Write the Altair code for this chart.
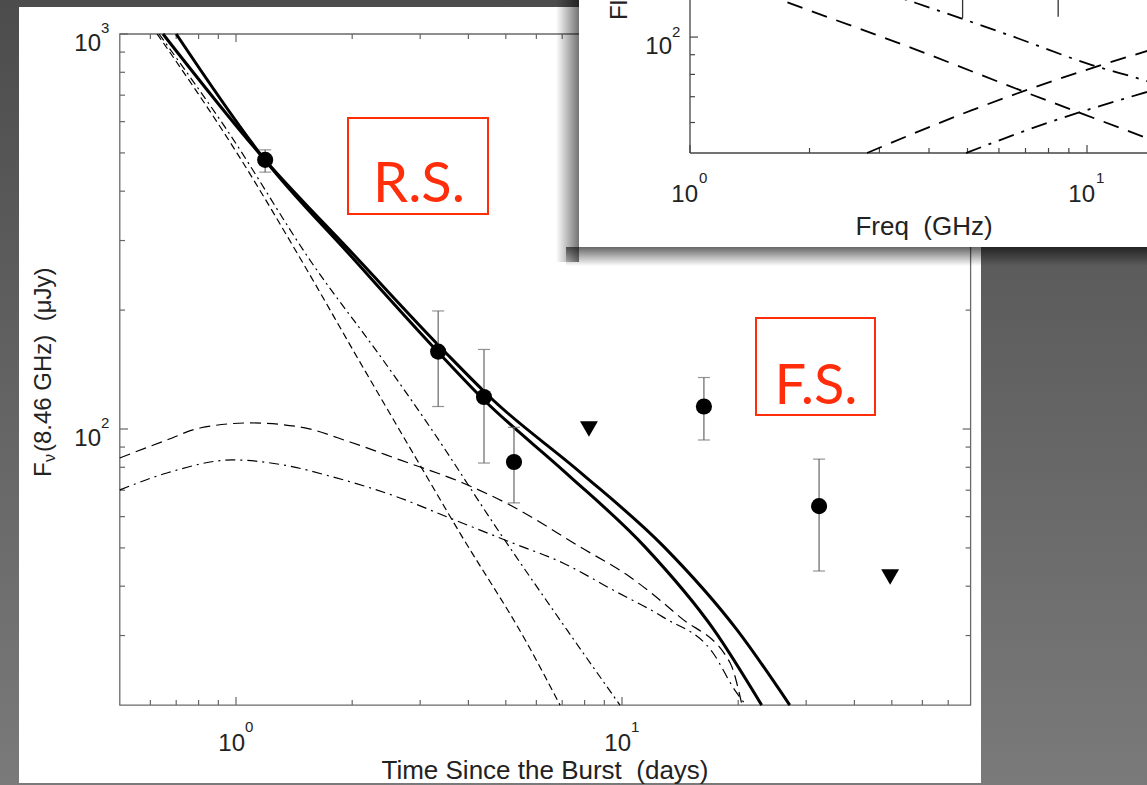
import altair as alt
import pandas as pd

# ---------------- values ----------------
# Main panel: 8.46 GHz light curve, flux (uJy) vs time since burst (days)
tot_a_t = [0.647, 1.189, 2.022, 3.479, 4.633, 7.784, 12.85, 19.86, 27.2]
tot_a_f = [1000, 479.8, 275.7, 156.7, 118.4, 77.8, 50.3, 31.0, 20]
tot_b_t = [0.70, 1.189, 1.974, 3.337, 4.39, 7.117, 11.47, 17.31, 23.0]
tot_b_f = [1000, 479.8, 275.7, 156.7, 118.4, 77.8, 50.3, 31.0, 20]

rs_dash_t = [0.625, 1.006, 1.491, 2.058, 2.944, 3.804, 5.675, 6.91]
rs_dash_f = [1000, 499.5, 263.2, 152.2, 83.5, 54.5, 28.7, 20]
rs_dd_t = [0.632, 0.948, 1.573, 2.403, 3.18, 4.83, 7.203, 9.88]
rs_dd_f = [1000, 571, 263.2, 149.6, 101.2, 54.5, 31.0, 20]

fs_dash_t = [0.5, 0.6625, 0.807, 1.087, 1.465, 1.974, 2.66, 3.873, 5.127, 7.784, 10.49, 14.14, 19.05, 20.46]
fs_dash_f = [84.5, 93.8, 100.6, 103.6, 101.2, 92.7, 83.5, 73.0, 64.2, 50.3, 42.2, 33.4, 25.6, 20]
fs_dd_t = [0.5, 0.6625, 0.982, 1.324, 1.784, 2.66, 3.521, 5.22, 7.03, 9.48, 12.77, 17.21, 19.62, 20.95]
fs_dd_f = [70.1, 77.4, 83.5, 81.1, 75.6, 66.9, 59.9, 51.4, 45.8, 39.1, 33.4, 27.1, 21.8, 20]

obs_t = [1.19, 3.34, 4.39, 5.25, 16.3, 32.4]
obs_f = [480, 157, 120.5, 82.5, 114, 63.8]
obs_lo = [447, 114, 82.0, 65.0, 93.8, 43.7]
obs_hi = [509, 199, 159, 101, 135, 83.9]
lim_t = [8.21, 49.5]
lim_f = [100, 42.2]

main_x_major = [1, 10]
main_x_sup = ["0", "1"]
main_x_minor = [0.6, 0.7, 0.8, 0.9, 2, 3, 4, 5, 6, 7, 8, 9, 20, 30, 40, 50, 60, 70]
main_y_major = [100, 1000]
main_y_sup = ["2", "3"]
main_y_minor = [30, 40, 50, 60, 70, 80, 90, 200, 300, 400, 500, 600, 700, 800, 900]

# Inset: spectrum, flux (uJy) vs frequency (GHz)
in_dash_dn_nu = [1.0, 1.695, 3.624, 7.1, 13.92, 15.28]
in_dash_dn_s = [152.9, 124.8, 93.6, 71.5, 55.0, 53.0]
in_dd_dn_nu = [2.5, 3.709, 6.36, 10.29, 13.92, 15.28]
in_dd_dn_s = [140.6, 122.6, 101.2, 84.6, 77.3, 75.0]
in_dash_up_nu = [2.792, 5.132, 10.29, 14.41]
in_dash_up_s = [50, 64.6, 83.1, 92.5]
in_dd_up_nu = [4.958, 7.93, 14.41]
in_dd_up_s = [50, 59.8, 72.4]
in_err_nu = [4.86, 8.46]
in_err_lo = [112, 113]
in_err_hi = [400, 400]

in_x_major = [1, 10]
in_x_sup = ["0", "1"]
in_x_minor = [2, 3, 4, 5, 6, 7, 8, 9, 20, 30]
in_y_major = [100]
in_y_sup = ["2"]
in_y_minor = [60, 70, 80, 90]

# ---------------- scales ----------------
XM = alt.Scale(type="log", domain=[0.5, 80], range=[119.8, 970.6], nice=False)
YM = alt.Scale(type="log", domain=[20, 1000], range=[705.1, 34], nice=False)
XI = alt.Scale(type="log", domain=[1, 100], range=[690, 1484], nice=False)
YI = alt.Scale(type="log", domain=[50, 1000], range=[153, -348], nice=False)

FONT = "Liberation Sans"
NB = "\u00a0"
one = pd.DataFrame({"k": [0]})


def X(field, sc):
    return alt.X(field, scale=sc, axis=None)


def Y(field, sc):
    return alt.Y(field, scale=sc, axis=None)


def curve(t, f, xs, ys, width=1.2, dash=None):
    df = pd.DataFrame({"x": t, "y": f})
    kw = dict(interpolate="monotone", color="black", strokeWidth=width)
    if dash:
        kw["strokeDash"] = dash
    return alt.Chart(df).mark_line(**kw).encode(x=X("x:Q", xs), y=Y("y:Q", ys))


def rect(x, x2, y, y2, **mk):
    return alt.Chart(one).mark_rect(**mk).encode(
        x=alt.value(x), x2=alt.value(x2), y=alt.value(y), y2=alt.value(y2))


def text(s, x, y, font=FONT, **mk):
    return alt.Chart(one).mark_text(text=s, font=font, **mk).encode(
        x=alt.value(x), y=alt.value(y))


def xticks(vals, xs, y0, y1, color="#666"):
    df = pd.DataFrame({"v": vals})
    return alt.Chart(df).mark_rule(color=color, strokeWidth=1.2).encode(
        x=X("v:Q", xs), y=alt.value(y0), y2=alt.value(y1))


def yticks(vals, ys, x0, x1, color="#666"):
    df = pd.DataFrame({"v": vals})
    return alt.Chart(df).mark_rule(color=color, strokeWidth=1.2).encode(
        y=Y("v:Q", ys), x=alt.value(x0), x2=alt.value(x1))


def gradient(c0, c1, vertical=True):
    return alt.Gradient(
        gradient="linear",
        stops=[alt.GradientStop(color=c0, offset=0), alt.GradientStop(color=c1, offset=1)],
        x1=0, y1=0, x2=0 if vertical else 1, y2=1 if vertical else 0)


layers = []
# slide background and white page
layers.append(rect(0, 1147, 0, 785, fill=gradient("#4c4c4c", "#7a7a7a")))
layers.append(rect(19, 981, 7, 783, fill="white"))

# main frame
frame = pd.DataFrame({"x": [0.5], "x2": [80], "y": [20], "y2": [1000]})
layers.append(alt.Chart(frame).mark_rect(fillOpacity=0, stroke="#6a6a6a", strokeWidth=1.3).encode(
    x=X("x:Q", XM), x2="x2:Q", y=Y("y:Q", YM), y2="y2:Q"))

# main inward ticks
layers += [
    xticks(main_x_major, XM, 705, 697), xticks(main_x_minor, XM, 705, 700),
    xticks(main_x_major, XM, 34, 42), xticks(main_x_minor, XM, 34, 39),
    yticks(main_y_major, YM, 120, 128), yticks(main_y_minor, YM, 120, 125),
    yticks(main_y_major, YM, 970.6, 962.6), yticks(main_y_minor, YM, 970.6, 965.6),
]

# main tick labels
mx = pd.DataFrame({"v": main_x_major, "s": main_x_sup})
layers.append(alt.Chart(mx).mark_text(text="10", font=FONT, fontSize=24, align="right", dx=9, color="#222").encode(
    x=X("v:Q", XM), y=alt.value(744)))
layers.append(alt.Chart(mx).mark_text(font=FONT, fontSize=15, align="left", dx=9, color="#222").encode(
    x=X("v:Q", XM), y=alt.value(727), text="s:N"))
my = pd.DataFrame({"v": main_y_major, "s": main_y_sup})
layers.append(alt.Chart(my).mark_text(text="10", font=FONT, fontSize=24, align="right", dy=10, color="#222").encode(
    y=Y("v:Q", YM), x=alt.value(101)))
layers.append(alt.Chart(my).mark_text(font=FONT, fontSize=15, align="left", dy=-6, color="#222").encode(
    y=Y("v:Q", YM), x=alt.value(101), text="s:N"))

# main titles
layers.append(text("Time Since the Burst" + NB + " (days)", 545, 771, fontSize=26, align="center", color="#222"))
layers.append(text("F", 44, 477, fontSize=24, angle=270, align="left", color="#222"))
layers.append(text("\u03bd", 50, 462, fontSize=16, angle=270, align="left", color="#222"))
layers.append(text("(8.46 GHz)" + NB + " (\u03bcJy)", 44, 452, fontSize=24, angle=270, align="left", color="#222"))

# main model curves
layers += [
    curve(fs_dash_t, fs_dash_f, XM, YM, 1.2, [11, 6]),
    curve(fs_dd_t, fs_dd_f, XM, YM, 1.2, [10, 5, 2, 5]),
    curve(rs_dash_t, rs_dash_f, XM, YM, 1.2, [7, 4]),
    curve(rs_dd_t, rs_dd_f, XM, YM, 1.2, [8, 4, 2, 4]),
    curve(tot_a_t, tot_a_f, XM, YM, 3),
    curve(tot_b_t, tot_b_f, XM, YM, 3),
]

# observations
obs = pd.DataFrame({"t": obs_t, "f": obs_f, "lo": obs_lo, "hi": obs_hi})
layers.append(alt.Chart(obs).mark_rule(color="#666", strokeWidth=1.2).encode(
    x=X("t:Q", XM), y=Y("lo:Q", YM), y2="hi:Q"))
layers.append(alt.Chart(obs).mark_tick(orient="horizontal", color="#666", size=12, thickness=1.2).encode(
    x=X("t:Q", XM), y=Y("lo:Q", YM)))
layers.append(alt.Chart(obs).mark_tick(orient="horizontal", color="#666", size=12, thickness=1.2).encode(
    x=X("t:Q", XM), y=Y("hi:Q", YM)))
layers.append(alt.Chart(obs).mark_point(shape="circle", filled=True, size=260, color="black", opacity=1).encode(
    x=X("t:Q", XM), y=Y("f:Q", YM)))
lim = pd.DataFrame({"t": lim_t, "f": lim_f})
layers.append(alt.Chart(lim).mark_point(shape="triangle-down", filled=True, size=320, color="black", opacity=1).encode(
    x=X("t:Q", XM), y=Y("f:Q", YM)))

# red annotation boxes
RED = "#ff2d0a"
layers.append(rect(348, 488, 118, 214, fillOpacity=0, stroke=RED, strokeWidth=2))
layers.append(text("R.S.", 419, 185, font="Lato", fontSize=56, align="center", color=RED))
layers.append(rect(756, 875, 318, 415, fillOpacity=0, stroke=RED, strokeWidth=2))
layers.append(text("F.S.", 816, 387, font="Lato", fontSize=56, align="center", color=RED))

# inset panel with shadow
layers.append(rect(556, 579, 0, 262, fill=gradient("rgba(0,0,0,0)", "rgba(0,0,0,0.55)", vertical=False)))
layers.append(rect(566, 1147, 247, 266, fill=gradient("rgba(0,0,0,0.6)", "rgba(0,0,0,0)")))
layers.append(rect(579, 1147, 0, 247, fill="white"))

# inset axes
ax_l = pd.DataFrame({"x": [1], "y": [50], "y2": [1000]})
layers.append(alt.Chart(ax_l).mark_rule(color="#444", strokeWidth=1.3).encode(
    x=X("x:Q", XI), y=Y("y:Q", YI), y2="y2:Q"))
ax_b = pd.DataFrame({"x": [1], "x2": [100], "y": [50]})
layers.append(alt.Chart(ax_b).mark_rule(color="#444", strokeWidth=1.3).encode(
    x=X("x:Q", XI), x2="x2:Q", y=Y("y:Q", YI)))
layers += [
    xticks(in_x_major, XI, 153, 145, "#444"), xticks(in_x_minor, XI, 153, 148, "#444"),
    yticks(in_y_major, YI, 690, 698, "#444"), yticks(in_y_minor, YI, 690, 695, "#444"),
]
ix = pd.DataFrame({"v": in_x_major, "s": in_x_sup})
layers.append(alt.Chart(ix).mark_text(text="10", font=FONT, fontSize=24, align="right", dx=8, color="#222").encode(
    x=X("v:Q", XI), y=alt.value(195)))
layers.append(alt.Chart(ix).mark_text(font=FONT, fontSize=15, align="left", dx=9, color="#222").encode(
    x=X("v:Q", XI), y=alt.value(178), text="s:N"))
iy = pd.DataFrame({"v": in_y_major, "s": in_y_sup})
layers.append(alt.Chart(iy).mark_text(text="10", font=FONT, fontSize=24, align="right", dy=10, color="#222").encode(
    y=Y("v:Q", YI), x=alt.value(672)))
layers.append(alt.Chart(iy).mark_text(font=FONT, fontSize=15, align="left", dy=-5, color="#222").encode(
    y=Y("v:Q", YI), x=alt.value(672), text="s:N"))
layers.append(text("Freq" + NB + " (GHz)", 924, 227, fontSize=26, align="center", color="#222"))
layers.append(text("Flux Density" + NB + " (\u03bcJy)", 620, 20, fontSize=24, angle=270, align="left", color="#222"))

# inset curves and error bars
layers += [
    curve(in_dash_dn_nu, in_dash_dn_s, XI, YI, 1.8, [16, 10]),
    curve(in_dd_dn_nu, in_dd_dn_s, XI, YI, 1.8, [16, 8, 3, 8]),
    curve(in_dash_up_nu, in_dash_up_s, XI, YI, 1.8, [16, 10]),
    curve(in_dd_up_nu, in_dd_up_s, XI, YI, 1.8, [16, 8, 3, 8]),
]
ie = pd.DataFrame({"nu": in_err_nu, "lo": in_err_lo, "hi": in_err_hi})
layers.append(alt.Chart(ie).mark_rule(color="#333", strokeWidth=1.3).encode(
    x=X("nu:Q", XI), y=Y("lo:Q", YI), y2="hi:Q"))

chart = alt.layer(*layers).resolve_scale(x="independent", y="independent").properties(
    width=1147, height=785, padding=0,
    autosize=alt.AutoSizeParams(type="none"),
).configure_view(stroke=None)

chart.save("out.html", embed_options={"renderer": "svg", "actions": False})
